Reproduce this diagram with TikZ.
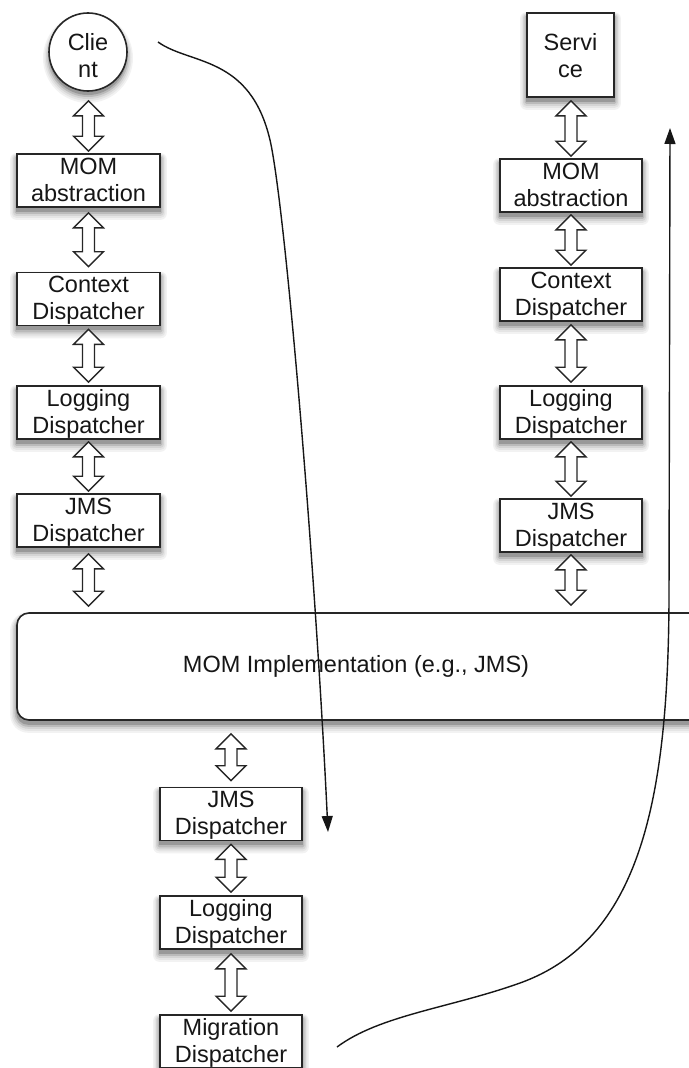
\documentclass[tikz,border=0pt]{standalone}
\usepackage{fontspec}
\setmainfont{Liberation Sans}
\usetikzlibrary{calc,arrows.meta}

\definecolor{boxline}{HTML}{262626}
\definecolor{ink}{HTML}{161616}

\pgfdeclarelayer{shadowlayer}
\pgfsetlayers{shadowlayer,main}

% two centred lines; the box baseline is the first line
\newcommand\twoline[2]{\vtop{\hbox to 0pt{\hss#1\hss}\hbox to 0pt{\hss#2\hss}}}

% hollow double-headed arrow between two points (gaps in pt)
\newcommand\hollowlink[4]{%
  \draw[hollowarrow] let \p1=(#1), \p2=(#2) in
    (\x2,\y1-#3pt) -- ++(15pt,-15pt) -- ++(-9pt,0pt)
    -- (\x2+6pt,\y2+#4pt+15pt) -- ++(9pt,0pt) -- (\x2,\y2+#4pt)
    -- ++(-15pt,15pt) -- ++(9pt,0pt)
    -- (\x2-6pt,\y1-#3pt-15pt) -- ++(-9pt,0pt) -- cycle;}

% soft drop shadow under a rectangular node: #1 node, #2 corner radius
\newcommand\castshadow[2]{%
  \foreach \g/\s/\c in {6/6/5, 4.5/5.5/10, 3/5/17, 1.5/4.5/27, 0/4/40}{%
    \fill[black!\c, rounded corners={(#2+\g)*1pt}]
      ([xshift={-\g*1pt}, yshift={-(\s+\g)*1pt}]#1.south west) rectangle
      ([xshift={\g*1pt}, yshift={(\g-\s)*1pt}]#1.north east);}}

% soft drop shadow under a circular node: #1 node, #2 radius
\newcommand\castroundshadow[2]{%
  \foreach \g/\s/\c in {6/6/5, 4.5/5.5/10, 3/5/17, 1.5/4.5/27, 0/4/40}{%
    \fill[black!\c] ([yshift={-\s*1pt}]#1.center) circle[radius={(#2+\g)*1pt}];}}

\tikzset{
  stackbox/.style={rectangle, draw=boxline, line width=1.6pt, fill=white,
    inner sep=0pt, minimum width=143pt, minimum height=53pt,
    text height=20pt, text depth=33pt, text=ink},
  endpoint/.style={draw=boxline, line width=1.6pt, fill=white, inner sep=0pt,
    text=ink},
  hollowarrow/.style={draw=boxline, line width=1.4pt, fill=white,
    line join=miter},
  flowline/.style={draw=ink, line width=1.4pt,
    -{Triangle[length=16pt,width=11pt]}},
}

\begin{document}
\begin{tikzpicture}[x=1pt, y=-1pt, font=\fontsize{23.5}{27}\selectfont]
\useasboundingbox (0,0) rectangle (688,1068);

% client side
\node[endpoint, circle, minimum size=78pt, text height=20pt, text depth=24pt]
  (client) at (88,52) {\twoline{Clie}{nt}};
\node[stackbox] (lmom) at (88.5,180.5) {\twoline{MOM}{abstraction}};
\node[stackbox] (lctx) at (88.5,299)   {\twoline{Context}{Dispatcher}};
\node[stackbox] (llog) at (88.5,412.5) {\twoline{Logging}{Dispatcher}};
\node[stackbox] (ljms) at (88.5,520.5) {\twoline{JMS}{Dispatcher}};

% service side
\node[endpoint, rectangle, minimum width=87pt, minimum height=84pt,
  text height=37pt, text depth=47pt]
  (service) at (570.5,55) {\twoline{Servi}{ce}};
\node[stackbox, minimum width=142pt] (rmom) at (571,185.5) {\twoline{MOM}{abstraction}};
\node[stackbox, minimum width=142pt] (rctx) at (571,294.5) {\twoline{Context}{Dispatcher}};
\node[stackbox, minimum width=142pt] (rlog) at (571,412.5) {\twoline{Logging}{Dispatcher}};
\node[stackbox, minimum width=142pt] (rjms) at (571,525.5) {\twoline{JMS}{Dispatcher}};

% middleware; it runs on past the right edge
\node[endpoint, rectangle, rounded corners=12pt, minimum width=690pt,
  minimum height=107pt] (impl) at (362,666.5) {\kern-12pt MOM Implementation (e.g., JMS)};

% migration stack
\node[stackbox, minimum width=142pt] (bjms) at (231,814)    {\twoline{JMS}{Dispatcher}};
\node[stackbox, minimum width=142pt] (blog) at (231,922.5)  {\twoline{Logging}{Dispatcher}};
\node[stackbox, minimum width=142pt] (bmig) at (231,1041.5) {\twoline{Migration}{Dispatcher}};

% shadows behind the boxes
\begin{pgfonlayer}{shadowlayer}
  \castroundshadow{client}{39}
  \foreach \n in {lmom,lctx,llog,ljms,service,rmom,rctx,rlog,rjms,bjms,blog,bmig}
    {\castshadow{\n}{0}}
  \castshadow{impl}{12}
\end{pgfonlayer}

% layer links
\hollowlink{client.south}{lmom.north}{9}{2}
\hollowlink{lmom.south}{lctx.north}{5}{5}
\hollowlink{lctx.south}{llog.north}{3}{3}
\hollowlink{llog.south}{ljms.north}{2}{2}
\hollowlink{ljms.south}{ljms.south |- impl.north}{6}{6}

\hollowlink{service.south}{rmom.north}{3}{2}
\hollowlink{rmom.south}{rctx.north}{2}{2}
\hollowlink{rctx.south}{rlog.north}{3}{3}
\hollowlink{rlog.south}{rjms.north}{2}{2}
\hollowlink{rjms.south}{rjms.south |- impl.north}{2}{7}

\hollowlink{bjms.north |- impl.south}{bjms.north}{13}{6}
\hollowlink{bjms.south}{blog.north}{3}{3}
\hollowlink{blog.south}{bmig.north}{4}{3}

% message flow
\coordinate (reqstart) at (158,42);
\coordinate (reqend) at (328,832);
\draw[flowline] (reqstart) .. controls (190,65) and (250,55) .. (270,140)
  .. controls (285,205) and (315,560) .. (reqend);

\coordinate (fwdstart) at (337,1047);
\coordinate (fwdend) at (670,128);
\draw[flowline] (fwdstart) .. controls (380,1015) and (450,1008) .. (520,983)
  .. controls (640,940) and (668,800) .. (669,600) -- (fwdend);
\end{tikzpicture}
\end{document}
